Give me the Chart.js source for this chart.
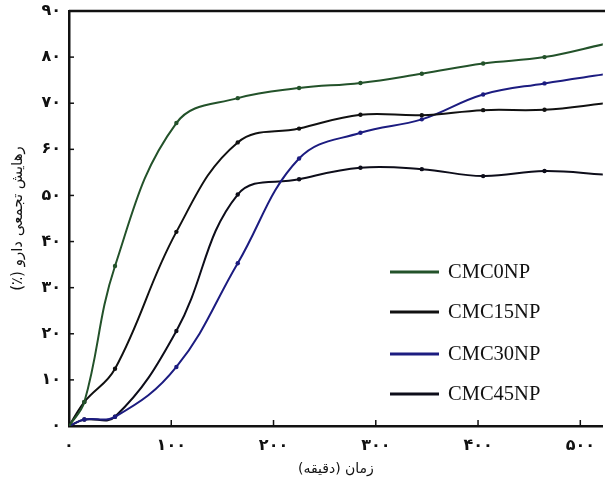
<!DOCTYPE html>
<html>
<head>
<meta charset="utf-8">
<script src="https://cdn.jsdelivr.net/npm/chart.js@4/dist/chart.umd.min.js"></script>
<style>
html,body{margin:0;padding:0;background:#fff;}
#wrap{width:605px;height:482px;position:relative;}
</style>
</head>
<body>
<div id="wrap"><canvas id="c" width="605" height="482"></canvas></div>
<script>
// Time points (minutes)
const times = [0, 15, 45, 105, 165, 225, 285, 345, 405, 465, 525];
// Series values (cumulative drug release %)
const cmc0NP  = [0, 5.2, 34.7, 65.7, 71.1, 73.3, 74.4, 76.4, 78.6, 80.0, 82.9];
const cmc15NP = [0, 5.2, 12.4, 42.1, 61.5, 64.5, 67.5, 67.4, 68.5, 68.6, 70.0];
const cmc30NP = [0, 1.4, 2.0, 12.8, 35.3, 58.0, 63.6, 66.5, 71.9, 74.3, 76.3];
const cmc45NP = [0, 1.4, 2.0, 20.6, 50.2, 53.5, 56.0, 55.7, 54.2, 55.3, 54.5];
const seriesLabels = ['CMC0NP', 'CMC15NP', 'CMC30NP', 'CMC45NP'];
const seriesColors = ['#23522a', '#111111', '#1c1c80', '#0d0d1a'];
const xTickValues = [0, 100, 200, 300, 400, 500];
const xTickLabels = ['۰', '۱۰۰', '۲۰۰', '۳۰۰', '۴۰۰', '۵۰۰'];
const yTickValues = [0, 10, 20, 30, 40, 50, 60, 70, 80, 90];
const yTickLabels = ['۰', '۱۰', '۲۰', '۳۰', '۴۰', '۵۰', '۶۰', '۷۰', '۸۰', '۹۰'];
const xTitle = 'زمان (دقیقه)';
const yTitle = '\u202Bرهایش تجمعی دارو (٪)\u202C';

const allSeries = [cmc0NP, cmc15NP, cmc30NP, cmc45NP];
const datasets = allSeries.map((vals, i) => ({
  label: seriesLabels[i],
  data: times.map((t, j) => ({x: t, y: vals[j]})),
  borderColor: seriesColors[i],
  backgroundColor: seriesColors[i],
  borderWidth: 2,
  pointRadius: 2.2,
  pointHoverRadius: 2.2,
  pointBorderWidth: 0,
  tension: 0.4,
  fill: false
}));

const frame = {
  id: 'frame',
  afterDraw(chart) {
    const ctx = chart.ctx;
    const a = chart.chartArea;
    const xs = chart.scales.x;
    const ys = chart.scales.y;
    ctx.save();
    // top border
    ctx.strokeStyle = '#111';
    ctx.lineWidth = 2.5;
    ctx.beginPath();
    ctx.moveTo(a.left, a.top);
    ctx.lineTo(chart.width, a.top);
    ctx.stroke();
    // inward x ticks
    ctx.lineWidth = 1.5;
    xs.ticks.forEach((tk, i) => {
      if (i === 0) return;
      const px = xs.getPixelForValue(tk.value);
      ctx.beginPath();
      ctx.moveTo(px, a.bottom);
      ctx.lineTo(px, a.bottom - 6);
      ctx.stroke();
    });
    // inward y ticks
    ys.ticks.forEach((tk, i) => {
      if (i === 0 || i === ys.ticks.length - 1) return;
      const py = ys.getPixelForValue(tk.value);
      ctx.beginPath();
      ctx.moveTo(a.left, py);
      ctx.lineTo(a.left + 5, py);
      ctx.stroke();
    });
    // legend
    const legYs = [272, 312, 354, 394];
    chart.data.datasets.forEach((ds, i) => {
      const y = legYs[i];
      ctx.strokeStyle = ds.borderColor;
      ctx.lineWidth = 3;
      ctx.beginPath();
      ctx.moveTo(390, y);
      ctx.lineTo(439, y);
      ctx.stroke();
      ctx.fillStyle = '#111';
      ctx.font = '20.5px "Liberation Serif", "Times New Roman", serif';
      ctx.textBaseline = 'middle';
      ctx.textAlign = 'left';
      ctx.fillText(ds.label, 448, y + 1);
    });
    ctx.restore();
  }
};

new Chart(document.getElementById('c'), {
  type: 'line',
  data: {datasets},
  options: {
    responsive: false,
    animation: false,
    layout: {padding: {top: 11, right: 0, left: 0, bottom: 0}},
    plugins: {legend: {display: false}, tooltip: {enabled: false}},
    scales: {
      x: {
        type: 'linear',
        min: 0,
        max: 522,
        afterBuildTicks(scale) {
          scale.ticks = xTickValues.map(v => ({value: v}));
        },
        afterFit(scale) { scale.height = 56; scale.paddingLeft = 0; scale.paddingRight = 0; },
        grid: {display: false, drawTicks: false},
        border: {display: true, color: '#111', width: 2.5},
        ticks: {
          padding: 10,
          maxRotation: 0,
          autoSkip: false,
          color: '#111',
          font: {family: '"DejaVu Sans"', size: 16, weight: 'bold'},
          callback: (v) => xTickLabels[xTickValues.indexOf(v)]
        },
        title: {
          display: true,
          text: xTitle,
          color: '#111',
          font: {family: '"DejaVu Sans"', size: 14},
          padding: {top: 4, bottom: 4}
        }
      },
      y: {
        type: 'linear',
        min: 0,
        max: 90,
        afterBuildTicks(scale) {
          scale.ticks = yTickValues.map(v => ({value: v}));
        },
        afterFit(scale) { scale.width = 69; scale.paddingTop = 0; scale.paddingBottom = 0; },
        grid: {display: false, drawTicks: false},
        border: {display: true, color: '#111', width: 2.5},
        ticks: {
          padding: 8,
          autoSkip: false,
          color: '#111',
          font: {family: '"DejaVu Sans"', size: 16, weight: 'bold'},
          callback: (v) => yTickLabels[yTickValues.indexOf(v)]
        },
        title: {
          display: true,
          text: yTitle,
          color: '#111',
          font: {family: '"DejaVu Sans"', size: 15},
          padding: {top: 9, bottom: 9}
        }
      }
    }
  },
  plugins: [frame]
});
</script>
</body>
</html>
